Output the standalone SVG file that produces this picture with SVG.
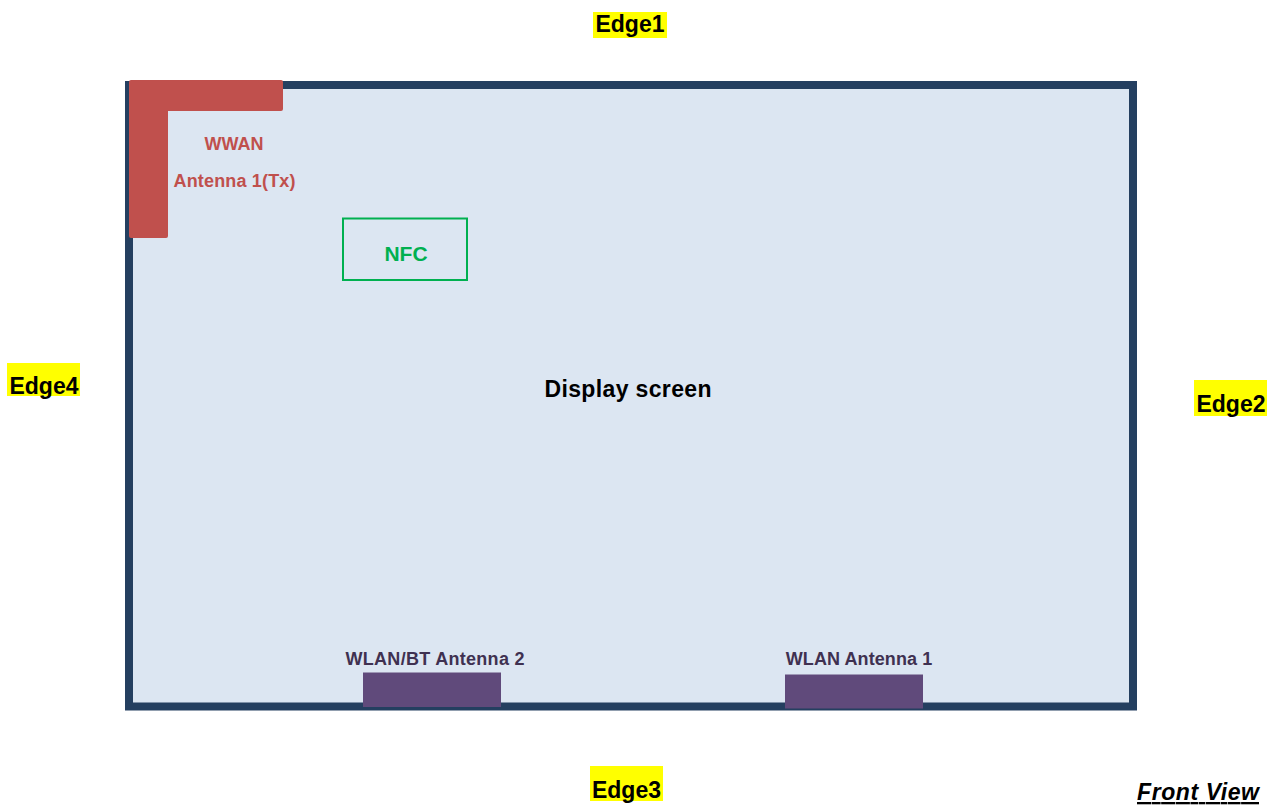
<svg xmlns="http://www.w3.org/2000/svg" width="1277" height="807" viewBox="0 0 1277 807">
<style>
text{font-family:"Liberation Sans",Arial,sans-serif;font-weight:bold}
.edge{font-size:23px;fill:#000}
.hl{fill:#FFFF00}
.wwan{font-size:18px;fill:#C0504D}
.wlan{font-size:18px;fill:#3F3151}
.ant{fill:#604A7B}
</style>
<rect width="1277" height="807" fill="#FFFFFF"/>
<g id="screen">
<rect x="129" y="85" width="1004" height="621.5" fill="#DCE6F2" stroke="#243F60" stroke-width="8"/>
<text x="628" y="397" font-size="23" text-anchor="middle" textLength="167" lengthAdjust="spacing" fill="#000">Display screen</text>
</g>
<g id="wwan">
<path d="M131,80 H281 Q283,80 283,82 V109 Q283,111 281,111 H168 V236 Q168,238 166,238 H131 Q129,238 129,236 V82 Q129,80 131,80 Z" fill="#C0504D"/>
<text class="wwan" x="234" y="150" text-anchor="middle">WWAN</text>
<text class="wwan" x="234.5" y="187" text-anchor="middle" textLength="122" lengthAdjust="spacing">Antenna 1(Tx)</text>
</g>
<g id="nfc">
<rect x="343" y="218.5" width="124" height="61.5" fill="none" stroke="#00B050" stroke-width="2"/>
<text x="406" y="261" font-size="21" text-anchor="middle" fill="#00B050">NFC</text>
</g>
<g id="wlanbt2">
<rect class="ant" x="363" y="672.5" width="138" height="34.5"/>
<text class="wlan" x="435" y="664.5" text-anchor="middle" textLength="179" lengthAdjust="spacing">WLAN/BT Antenna 2</text>
</g>
<g id="wlan1">
<rect class="ant" x="785" y="674.5" width="138" height="34"/>
<text class="wlan" x="859" y="665" text-anchor="middle" textLength="146.5" lengthAdjust="spacing">WLAN Antenna 1</text>
</g>
<g id="edge1">
<rect class="hl" x="593" y="12" width="74" height="26"/>
<text class="edge" x="630" y="32" text-anchor="middle" font-size="22">Edge1</text>
</g>
<g id="edge2">
<rect class="hl" x="1194" y="380" width="73" height="36"/>
<text class="edge" x="1231" y="412" text-anchor="middle">Edge2</text>
</g>
<g id="edge3">
<rect class="hl" x="590" y="766" width="73" height="35"/>
<text class="edge" x="626.5" y="798" text-anchor="middle">Edge3</text>
</g>
<g id="edge4">
<rect class="hl" x="7" y="363" width="73" height="33"/>
<text class="edge" x="44" y="394" text-anchor="middle">Edge4</text>
</g>
<g id="frontview">
<text x="1137" y="800" font-size="23" font-style="italic" text-decoration="underline" textLength="122" lengthAdjust="spacing" fill="#000">Front View</text>
</g>
</svg>
